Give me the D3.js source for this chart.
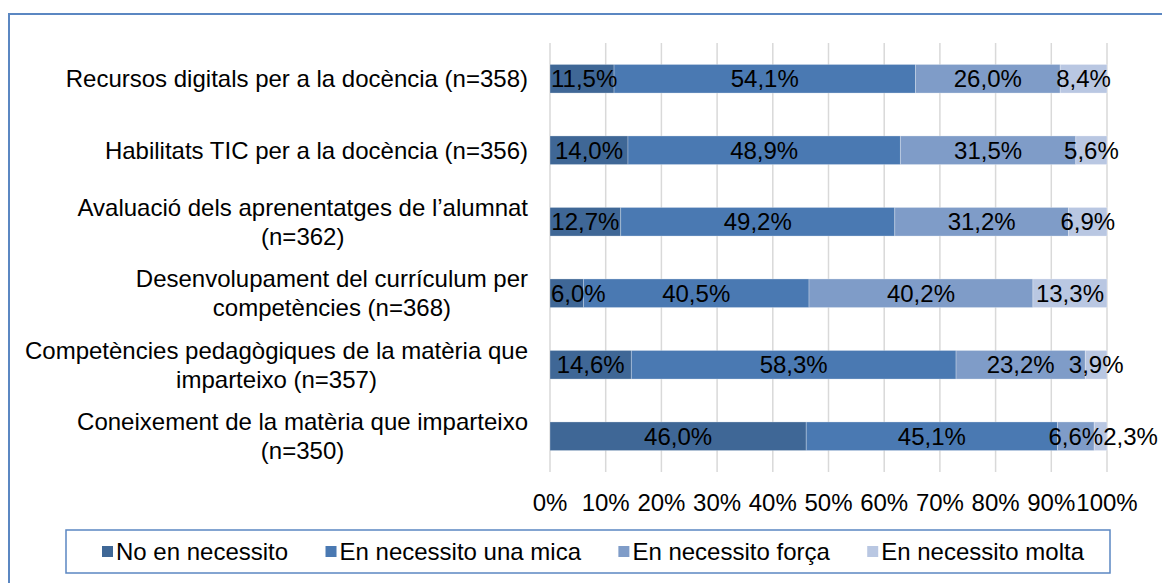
<!DOCTYPE html>
<html>
<head>
<meta charset="utf-8">
<script src="https://cdn.jsdelivr.net/npm/d3@7/dist/d3.min.js"></script>
<style>
  body { margin: 0; background: #fff; }
  text { font-family: "Liberation Sans", Arial, sans-serif; fill: #000; }
</style>
</head>
<body>
<svg id="chart" width="1162" height="583"></svg>
<script>
const categories = [
  ['Recursos digitals per a la docència (n=358)'],
  ['Habilitats TIC per a la docència (n=356)'],
  ['Avaluació dels aprenentatges de l’alumnat', '(n=362)'],
  ['Desenvolupament del currículum per', 'competències (n=368)'],
  ['Competències pedagògiques de la matèria que', 'imparteixo (n=357)'],
  ['Coneixement de la matèria que imparteixo', '(n=350)']
];
const seriesNames = ['No en necessito', 'En necessito una mica', 'En necessito força', 'En necessito molta'];
const noNeed = [11.5, 14.0, 12.7, 6.0, 14.6, 46.0];
const aLittle = [54.1, 48.9, 49.2, 40.5, 58.3, 45.1];
const quiteALot = [26.0, 31.5, 31.2, 40.2, 23.2, 6.6];
const aLot = [8.4, 5.6, 6.9, 13.3, 3.9, 2.3];
const tickValues = [0, 10, 20, 30, 40, 50, 60, 70, 80, 90, 100];
const colors = ['#3f6796', '#4a79b2', '#7f9cc8', '#b9c7e2'];

const svg = d3.select('#chart');
const fontSize = 24;

// outer frame
svg.append('rect')
  .attr('x', 9).attr('y', 14)
  .attr('width', 1200).attr('height', 620)
  .attr('fill', 'none')
  .attr('stroke', '#5b87c2')
  .attr('stroke-width', 2);

const x = d3.scaleLinear().domain([0, 100]).range([550, 1107]);
const y = d3.scaleBand()
  .domain(d3.range(categories.length))
  .range([43, 472])
  .paddingInner(0.6)
  .paddingOuter(0.3);

// gridlines
svg.append('g')
  .selectAll('line')
  .data(tickValues)
  .join('line')
  .attr('x1', d => x(d)).attr('x2', d => x(d))
  .attr('y1', 43).attr('y2', 472)
  .attr('stroke', '#d9d9d9')
  .attr('stroke-width', 1.5);

// tick labels
svg.append('g')
  .selectAll('text')
  .data(tickValues)
  .join('text')
  .attr('x', d => x(d))
  .attr('y', 511)
  .attr('text-anchor', 'middle')
  .style('font-size', fontSize + 'px')
  .text(d => d + '%');

const rows = categories.map((c, i) => {
  const vals = [noNeed[i], aLittle[i], quiteALot[i], aLot[i]];
  let acc = 0;
  return vals.map((v, k) => {
    const seg = { row: i, k, v, x0: acc, x1: acc + v };
    acc += v;
    return seg;
  });
});

const fmt = v => v.toFixed(1).replace('.', ',') + '%';

rows.forEach((segs, i) => {
  const g = svg.append('g');
  g.selectAll('rect')
    .data(segs)
    .join('rect')
    .attr('x', d => x(d.x0))
    .attr('y', y(i))
    .attr('width', d => x(d.x1) - x(d.x0))
    .attr('height', y.bandwidth())
    .attr('fill', d => colors[d.k])
    .attr('stroke', '#ffffff')
    .attr('stroke-opacity', 0.35)
    .attr('stroke-width', 0.8);

  // labels centred in segments, kept inside the plot and pushed right if they collide
  const labels = g.selectAll('text.val')
    .data(segs)
    .join('text')
    .attr('class', 'val')
    .attr('y', y(i) + y.bandwidth() / 2 + fontSize * 0.36)
    .attr('text-anchor', 'middle')
    .style('font-size', fontSize + 'px')
    .text(d => fmt(d.v));
  let prevRight = x(0) + 1;
  labels.each(function(d) {
    const w = this.getComputedTextLength();
    let cx = (x(d.x0) + x(d.x1)) / 2;
    if (cx - w / 2 < prevRight) cx = prevRight + w / 2;
    d3.select(this).attr('x', cx);
    prevRight = cx + w / 2;
  });
});

// category labels
const lineH = 29;
categories.forEach((lines, i) => {
  const cy = y(i) + y.bandwidth() / 2;
  const g = svg.append('g');
  const t = g.selectAll('text')
    .data(lines)
    .join('text')
    .attr('y', (d, j) => cy + fontSize * 0.36 + (j - (lines.length - 1) / 2) * lineH)
    .attr('text-anchor', 'middle')
    .style('font-size', fontSize + 'px')
    .text(d => d);
  let maxW = 0;
  t.each(function() { maxW = Math.max(maxW, this.getComputedTextLength()); });
  t.attr('x', 528 - maxW / 2);
});

// legend
svg.append('rect')
  .attr('x', 66).attr('y', 530)
  .attr('width', 1044).attr('height', 43)
  .attr('fill', '#fff')
  .attr('stroke', '#5b87c2')
  .attr('stroke-width', 1.5);

const legend = svg.append('g');
const items = legend.selectAll('g')
  .data(seriesNames)
  .join('g');
items.append('rect')
  .attr('width', 11).attr('height', 11)
  .attr('y', 546)
  .attr('fill', (d, i) => colors[i]);
items.append('text')
  .attr('x', 14)
  .attr('y', 560)
  .style('font-size', fontSize + 'px')
  .text(d => d);
const widths = [];
items.each(function() {
  widths.push(14 + d3.select(this).select('text').node().getComputedTextLength());
});
const legStart = 102, legEnd = 1084;
const gap = (legEnd - legStart - d3.sum(widths)) / (widths.length - 1);
let lx = legStart;
items.each(function(d, i) {
  d3.select(this).attr('transform', `translate(${lx},0)`);
  lx += widths[i] + gap;
});
</script>
</body>
</html>
